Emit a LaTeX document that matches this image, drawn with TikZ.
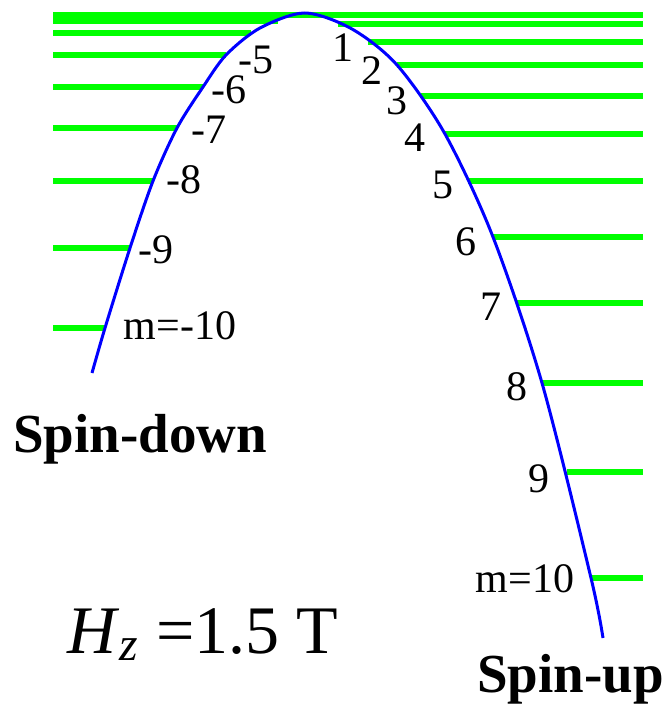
\documentclass[tikz,border=0pt]{standalone}
\usepackage{fontspec}
\setmainfont{Liberation Serif}
\usepackage{xcolor}
\definecolor{lvgreen}{RGB}{0,255,0}
\definecolor{lvblue}{RGB}{0,0,255}
\usetikzlibrary{positioning}

\tikzset{
  mline/.style={draw=lvgreen, line width=3pt},
  mcurve/.style={draw=lvblue, line width=1.5pt},
  mlabel/.style={inner sep=0pt, font=\fontsize{21}{24}\selectfont},
  spinlabel/.style={inner sep=0pt, anchor=base west, font=\fontsize{27.5}{32}\selectfont\bfseries},
}

\begin{document}
\begin{tikzpicture}[x=0.5pt, y=-0.5pt]
  \useasboundingbox (0,0) rectangle (664,707);

  % Top level (across)
  \draw[mline] (53,15) -- (643,15);

  % Spin-down levels
  \draw[mline] (53,21) -- (278,21);
  \draw[mline] (53,33) -- (251,33);
  \draw[mline] (53,55) -- (226,55);
  \draw[mline] (53,87) -- (203,87);
  \draw[mline] (53,128) -- (177,128);
  \draw[mline] (53,181) -- (153,181);
  \draw[mline] (53,248) -- (130,248);
  \draw[mline] (53,328) -- (105,328);

  % Spin-up levels
  \draw[mline] (338,24) -- (643,24);
  \draw[mline] (368,42) -- (643,42);
  \draw[mline] (397,65) -- (643,65);
  \draw[mline] (421,96) -- (643,96);
  \draw[mline] (445,134) -- (643,134);
  \draw[mline] (468,181) -- (643,181);
  \draw[mline] (493,237) -- (643,237);
  \draw[mline] (517,303) -- (643,303);
  \draw[mline] (542,383) -- (643,383);
  \draw[mline] (567,472) -- (643,472);
  \draw[mline] (591,578) -- (643,578);

  % Energy curve
  \draw[mcurve] plot[smooth] coordinates {(92,373) (105,328) (130,248) (153,181) (177,128) (203,87) (226,55) (260,28) (305,13) (352,29) (397,65) (445,134) (493,237) (542,383) (591,578) (603,638)};

  % Labels, spin-down side
  \node[mlabel] (mm5) at (256,60) {-5};
  \node[mlabel] (mm6) at (229,90) {-6};
  \node[mlabel] (mm7) at (209,130) {-7};
  \node[mlabel] (mm8) at (184,180) {-8};
  \node[mlabel] (mm9) at (156,250) {-9};
  \node[mlabel] (mm10) at (180,326) {m=-10};

  % Labels, spin-up side
  \node[mlabel] (mp1) at (343,48) {1};
  \node[mlabel] (mp2) at (372,71) {2};
  \node[mlabel] (mp3) at (397,101) {3};
  \node[mlabel] (mp4) at (415,138) {4};
  \node[mlabel] (mp5) at (443,185) {5};
  \node[mlabel] (mp6) at (466,242) {6};
  \node[mlabel] (mp7) at (491,307) {7};
  \node[mlabel] (mp8) at (517,387) {8};
  \node[mlabel] (mp9) at (539,479) {9};
  \node[mlabel] (mp10) at (525,579) {m=10};

  % Branch names and field
  \node[spinlabel] (down) at (13,452) {Spin-down};
  \node[spinlabel] (up) at (477,692) {Spin-up};
  \node[inner sep=0pt, anchor=base west, font=\fontsize{34}{40}\selectfont] (field) at (67,653) {\textit{H}\textsubscript{\textit{z}} =1.5 T};
\end{tikzpicture}
\end{document}
